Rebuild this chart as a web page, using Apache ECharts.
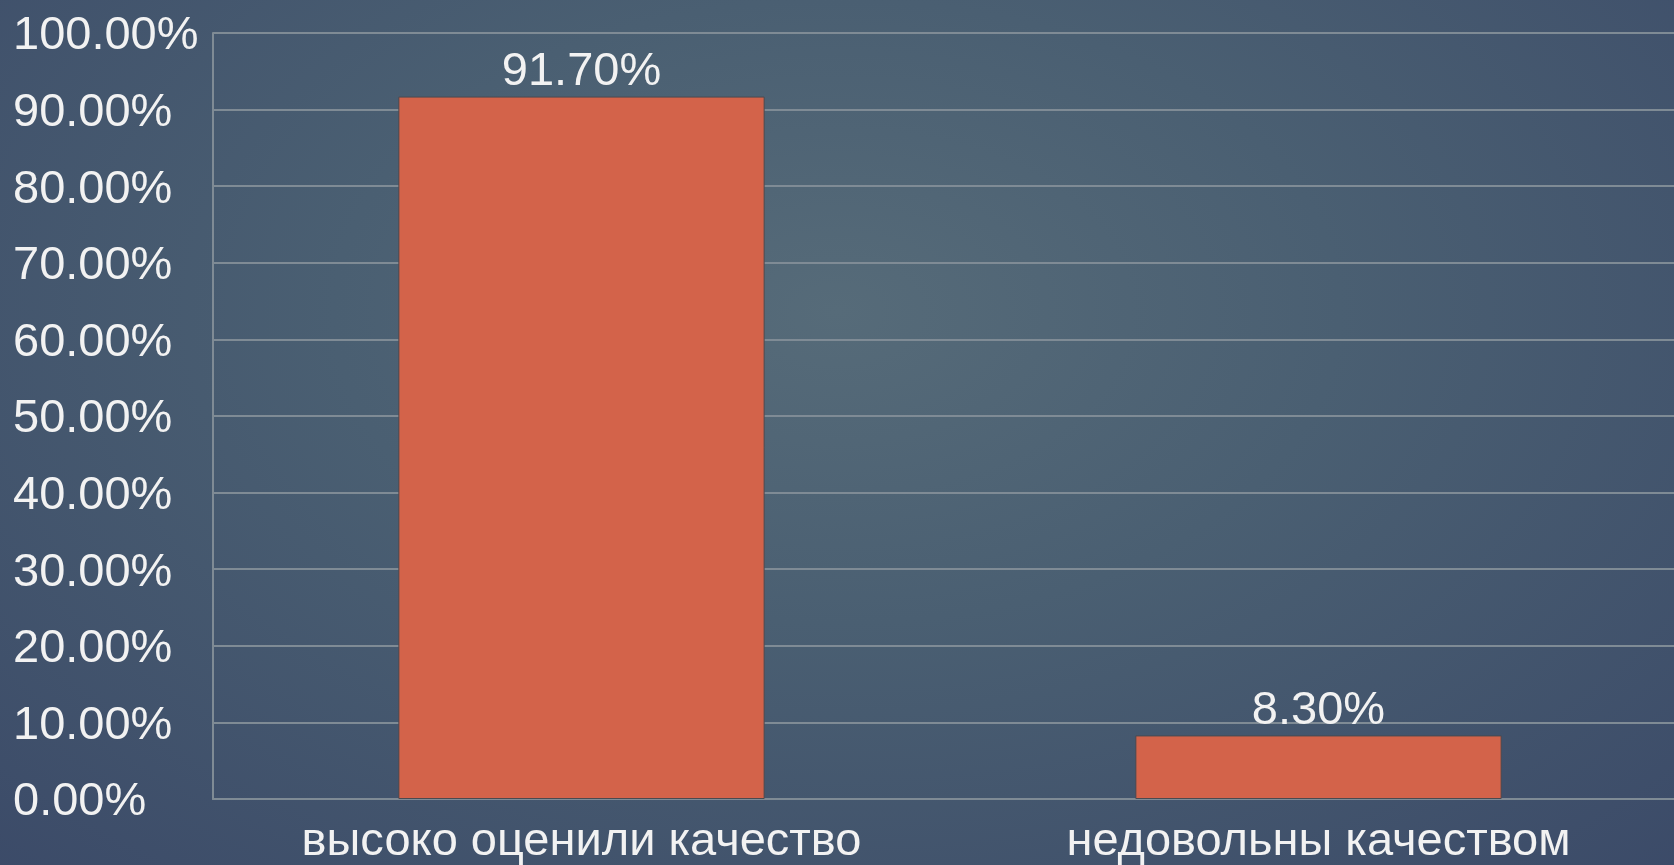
<!DOCTYPE html>
<html>
<head>
<meta charset="utf-8">
<script src="https://cdn.jsdelivr.net/npm/echarts@6/dist/echarts.min.js"></script>
<style>
  html, body { margin: 0; padding: 0; }
  body {
    width: 1674px; height: 865px; overflow: hidden;
    background: radial-gradient(ellipse 75% 90% at 50% 36%, #566b79 0%, #4a5f72 40%, #3b4a68 100%);
  }
  #chart { width: 1674px; height: 865px; }
</style>
</head>
<body>
<div id="chart"></div>
<script>
// категории и значения (в процентах)
const categories = ['высоко оценили качество', 'недовольны качеством'];
const values = [91.7, 8.3];
const yTicks = [0, 10, 20, 30, 40, 50, 60, 70, 80, 90, 100];

const chartDom = document.getElementById('chart');
const myChart = echarts.init(chartDom, null, { renderer: 'canvas' });

const textColor = '#f2f2f2';
const font = '"Liberation Sans", Arial, sans-serif';

const option = {
    backgroundColor: 'transparent',
    animation: false,
    // сетка выходит за правый край картинки, как в оригинале
    grid: {
        left: 213, width: 1474, top: 33, bottom: 66,
        containLabel: false, outerBoundsMode: 'none'
    },
    xAxis: {
        type: 'category',
        data: categories,
        axisLine: { show: true, lineStyle: { color: '#7f8b95', width: 2 } },
        axisTick: { show: false },
        axisLabel: {
            color: textColor, fontFamily: font, fontSize: 47, margin: 20
        }
    },
    yAxis: {
        type: 'value',
        min: yTicks[0],
        max: yTicks[yTicks.length - 1],
        interval: 10,
        axisLine: { show: true, lineStyle: { color: '#7f8b95', width: 2 } },
        axisTick: { show: false },
        splitLine: { lineStyle: { color: '#7f8b95', width: 2 } },
        axisLabel: {
            color: textColor, fontFamily: font, fontSize: 47,
            align: 'left', margin: 200,
            formatter: v => '{v|' + v.toFixed(2) + '%}',
            rich: { v: { fontSize: 47, fontFamily: font, color: textColor, padding: [7, 0, 0, 0] } }
        }
    },
    series: [{
        type: 'bar',
        data: values,
        barWidth: '49.7%',
        itemStyle: { color: '#d3634a', borderColor: '#4a4a50', borderWidth: 1 },
        label: {
            show: true, position: 'top', distance: 1,
            color: textColor, fontFamily: font, fontSize: 47,
            formatter: p => p.value.toFixed(2) + '%'
        }
    }]
};

option && myChart.setOption(option);
</script>
</body>
</html>
